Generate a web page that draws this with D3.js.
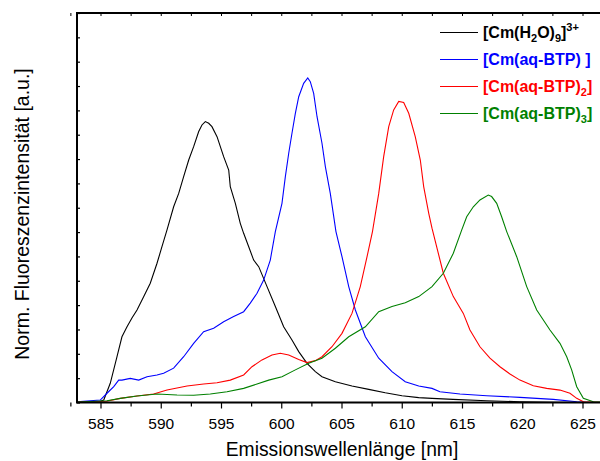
<!DOCTYPE html>
<html><head><meta charset="utf-8">
<script src="https://cdn.jsdelivr.net/npm/d3@7"></script>
<style>body{margin:0;background:#fff}svg{display:block;font-family:"Liberation Sans",Arial,sans-serif}</style>
</head><body><svg id="c" width="600" height="461"></svg>
<script>
const xTickLabels = [585,590,595,600,605,610,615,620,625];
const seriesNames = ["[Cm(H2O)9]3+","[Cm(aq-BTP)]","[Cm(aq-BTP)2]","[Cm(aq-BTP)3]"];
const seriesColors = ["#000000","#0000ff","#ff0000","#008000"];

const cmH2O = [[583,0.02],[584,0.03],[584.85,0.03],[585.27,0.10],[585.81,0.79],[586.37,1.88],[586.78,2.70],[587.2,3.11],[587.61,3.47],[588.03,3.80],[588.59,4.35],[589.13,4.90],[589.69,5.72],[590.1,6.40],[590.52,7.09],[591.07,8.04],[591.49,8.59],[591.9,9.28],[592.32,9.96],[592.73,10.51],[593.15,11.13],[593.42,11.40],[593.7,11.54],[593.98,11.47],[594.25,11.33],[594.67,10.92],[595.22,10.10],[595.64,9.55],[595.77,8.87],[596.19,8.18],[596.6,7.36],[596.88,6.95],[597.3,6.40],[597.71,5.85],[598.13,5.58],[598.82,4.76],[599.51,3.94],[600.2,3.11],[600.89,2.57],[601.45,2.09],[602.14,1.61],[602.83,1.27],[603.38,1.06],[604.49,0.85],[605.87,0.68],[607.26,0.54],[608.63,0.40],[610.02,0.28],[611.41,0.20],[612.51,0.17],[614.25,0.13],[617.05,0.07],[619.81,0.03],[622.58,0.01],[627,0]];
const cmBTP1 = [[583,0.03],[584.98,0.10],[585.54,0.38],[586.1,0.65],[586.51,0.92],[586.78,0.92],[587.47,0.99],[588.17,0.92],[588.86,1.06],[589.69,1.13],[590.24,1.20],[591.07,1.41],[591.9,1.88],[592.73,2.43],[593.56,2.91],[594.39,3.05],[595.22,3.32],[596.05,3.53],[596.88,3.73],[597.43,4.08],[597.99,4.49],[598.54,5.03],[599.09,5.85],[599.51,7.02],[600.06,8.18],[600.34,9.28],[600.62,10.24],[600.89,11.06],[601.17,11.88],[601.45,12.56],[601.86,13.11],[602.2,13.33],[602.41,13.18],[602.69,12.70],[602.97,11.74],[603.38,10.65],[603.66,9.69],[604.07,8.59],[604.54,7.02],[605.04,5.99],[605.6,4.76],[606.15,3.80],[606.98,2.70],[608.09,1.82],[609.19,1.27],[610.29,0.85],[611.41,0.68],[612.51,0.58],[613.17,0.44],[614.83,0.35],[617.05,0.28],[619.81,0.21],[622.58,0.13],[624.52,0.03],[625.35,0],[627,0]];
const cmBTP2 = [[583,0.02],[585.5,0.05],[586.64,0.17],[588.03,0.27],[589.41,0.35],[590.52,0.51],[592.18,0.68],[593.56,0.76],[594.67,0.81],[595.77,0.92],[596.88,1.13],[597.57,1.47],[598.4,1.75],[599.23,1.95],[599.92,2.02],[600.62,1.95],[601.45,1.77],[602.14,1.64],[602.83,1.72],[603.38,1.88],[604.21,2.29],[605.04,2.84],[605.87,3.66],[606.56,4.76],[607.12,5.99],[607.57,7.02],[608.09,8.59],[608.5,10.10],[608.92,11.33],[609.33,12.02],[609.75,12.37],[610.16,12.32],[610.58,11.88],[611.12,10.92],[611.54,9.96],[611.82,8.87],[612.24,7.77],[612.51,7.16],[613.45,5.31],[614.28,4.35],[615.11,3.66],[615.66,2.98],[616.49,2.29],[617.32,1.82],[618.15,1.47],[618.98,1.17],[619.81,0.92],[620.92,0.69],[622.03,0.58],[623.13,0.51],[623.96,0.38],[624.52,0.17],[625.07,0.03],[627,0]];
const cmBTP3 = [[583,0.02],[585.54,0.07],[586.64,0.17],[588.03,0.27],[589.69,0.35],[591.35,0.31],[592.73,0.30],[594.11,0.35],[595.5,0.44],[596.88,0.58],[597.99,0.76],[598.96,0.92],[600.06,1.06],[601.17,1.34],[602.28,1.61],[603.38,1.82],[604.49,2.23],[605.6,2.70],[606.98,3.11],[608.09,3.73],[609.19,3.94],[610.29,4.10],[611.41,4.35],[612.51,4.76],[613.45,5.31],[614.28,6.13],[614.98,7.09],[615.39,7.63],[615.94,8.04],[616.49,8.32],[617.18,8.52],[617.46,8.46],[617.88,8.18],[618.29,7.63],[618.71,7.02],[619.54,5.99],[620.37,4.76],[621.2,3.80],[622.3,2.98],[623.13,2.43],[623.69,1.88],[624.1,1.34],[624.52,0.65],[625.07,0.17],[625.9,0.03],[627,0.01]];
const seriesData = [cmH2O, cmBTP1, cmBTP2, cmBTP3];

const svg = d3.select("#c");
const L = 77, T = 13, B = 402.5;
const x = d3.scaleLinear().domain([585,625]).range([100.5,582.5]);
const R = x(627);
const y = d3.scaleLinear().domain([0,16]).range([B,T]);

svg.append("defs").append("clipPath").attr("id","clip")
  .append("rect").attr("x",L).attr("y",T).attr("width",R-L).attr("height",B-T);

const line = d3.line().x(d=>x(d[0])).y(d=>y(d[1]));
const g = svg.append("g").attr("clip-path","url(#clip)");
seriesData.forEach((s,i)=>{
  g.append("path").datum(s).attr("d",line).attr("fill","none")
   .attr("stroke",seriesColors[i]).attr("stroke-width",1.1);
});

// axes
const minorX = d3.range(582.5,628,2.5);
const xAxis = d3.axisBottom(x).tickValues(xTickLabels).tickSize(6).tickPadding(9).tickFormat(d3.format("d"));
const ax = svg.append("g").attr("transform",`translate(0,${B})`).call(xAxis);
ax.select(".domain").remove();
ax.selectAll("text").attr("font-size",15.5).attr("fill","#000").attr("font-family","Liberation Sans, Arial, sans-serif");
ax.selectAll("line").attr("stroke","#000").attr("stroke-width",1.2);
svg.append("g").attr("transform",`translate(0,${B})`)
  .call(d3.axisBottom(x).tickValues(minorX.filter(v=>v%5!==0)).tickSize(4).tickFormat(""))
  .call(s=>s.select(".domain").remove()).selectAll("line").attr("stroke","#000").attr("stroke-width",1.2);
// top ticks inward
svg.append("g").attr("transform",`translate(0,${T})`)
  .call(d3.axisTop(x).tickValues(minorX).tickSize(-3).tickFormat(""))
  .call(s=>s.select(".domain").remove()).selectAll("line").attr("stroke","#000").attr("stroke-width",1);
// left ticks inward
svg.append("g").attr("transform",`translate(${L},0)`)
  .call(d3.axisLeft(y).tickValues(d3.range(0,17,1)).tickSize(-3).tickFormat(""))
  .call(s=>s.select(".domain").remove()).selectAll("line").attr("stroke","#000").attr("stroke-width",1.2);

// frame
svg.append("line").attr("x1",L).attr("x2",L).attr("y1",T).attr("y2",B).attr("stroke","#000").attr("stroke-width",2);
svg.append("line").attr("x1",L-1).attr("x2",R).attr("y1",T).attr("y2",T).attr("stroke","#000").attr("stroke-width",2);
svg.append("line").attr("x1",L-1).attr("x2",R).attr("y1",B).attr("y2",B).attr("stroke","#000").attr("stroke-width",2);

// axis titles
svg.append("text").attr("x",342).attr("y",456).attr("text-anchor","middle")
  .attr("font-size",19.3).attr("fill","#000").text("Emissionswellenlänge [nm]");
svg.append("text").attr("transform","translate(29,214) rotate(-90)").attr("text-anchor","middle")
  .attr("font-size",19.5).attr("fill","#000").text("Norm. Fluoreszenzintensität [a.u.]");

// legend
const legendParts = [
  [["[Cm(H",0],["2",1],["O)",0],["9",1],["]",0],["3+",2]],
  [["[Cm(aq-BTP) ]",0]],
  [["[Cm(aq-BTP)",0],["2",1],["]",0]],
  [["[Cm(aq-BTP)",0],["3",1],["]",0]]
];
const legY = [32.5, 59.5, 86.5, 113.5];
legendParts.forEach((parts,i)=>{
  svg.append("line").attr("x1",440).attr("x2",478).attr("y1",legY[i]).attr("y2",legY[i])
    .attr("stroke",seriesColors[i]).attr("stroke-width",1.1);
  const t = svg.append("text").attr("x",483).attr("y",legY[i]+5.5).attr("font-size",16)
    .attr("font-weight","bold").attr("fill",seriesColors[i]);
  let state = 0;
  parts.forEach(([txt,kind])=>{
    const ts = t.append("tspan").text(txt);
    let dy = 0;
    if(kind===1){ ts.attr("font-size",11); dy = (state===1?0:4) - (state===2?-7:0); }
    else if(kind===2){ ts.attr("font-size",11); dy = (state===2?0:-7) - (state===1?4:0); }
    else { dy = state===1?-4:(state===2?7:0); }
    if(dy) ts.attr("dy",dy);
    state = kind;
  });
});
</script></body></html>
